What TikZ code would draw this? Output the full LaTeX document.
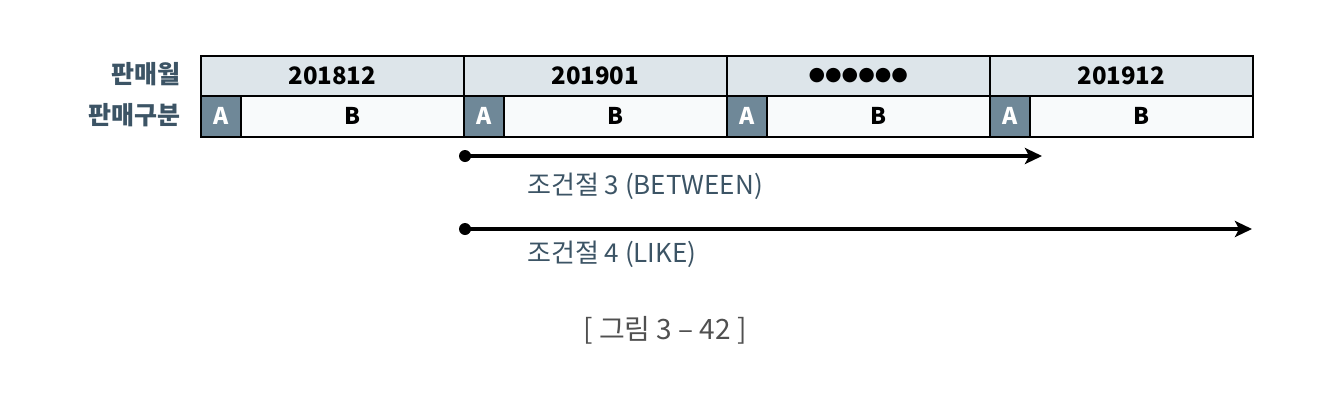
\documentclass[tikz,border=0pt]{standalone}
\usepackage{fontspec}
\setmainfont{Noto Sans CJK KR}
\newfontfamily\symfont{DejaVu Sans}
\usetikzlibrary{arrows.meta}
\definecolor{hdrfill}{HTML}{DDE5EA}
\definecolor{afill}{HTML}{6F8898}
\definecolor{cellfill}{HTML}{F8FAFB}
\definecolor{lblcol}{HTML}{3C5465}
\definecolor{capcol}{HTML}{505050}
\tikzset{
  hdr/.style={draw=black, line width=1.5pt, fill=hdrfill, minimum width=263pt, minimum height=40pt, inner sep=0pt, anchor=north west, font=\fontsize{24}{28}\selectfont\bfseries},
  acell/.style={draw=black, line width=1.5pt, fill=afill, text=white, minimum width=40pt, minimum height=41pt, inner sep=0pt, anchor=north west, font=\fontsize{23}{26}\selectfont\bfseries},
  bcell/.style={draw=black, line width=1.5pt, fill=cellfill, minimum width=223pt, minimum height=41pt, inner sep=0pt, anchor=north west, font=\fontsize{23}{26}\selectfont\bfseries},
  rowlbl/.style={anchor=east, text=lblcol, inner sep=0pt, font=\fontsize{25}{28}\selectfont\bfseries},
  rangearrow/.style={line width=3.2pt, -{Stealth[length=17pt,width=16pt,inset=4pt]}},
  startdot/.style={circle, fill=black, minimum size=12pt, inner sep=0pt},
  condlbl/.style={anchor=west, text=lblcol, inner sep=0pt, font=\fontsize{26}{29}\selectfont},
}
\begin{document}
\begin{tikzpicture}[x=1pt, y=-1pt]
\useasboundingbox (0,0) rectangle (1322,410);
% header row
\node[hdr] (h1) at (200,55) {201812};
\node[hdr] (h2) at (463,55) {201901};
\node[hdr] (h3) at (726,55) {{\symfont\fontsize{19}{22}\selectfont ●●●●●●}};
\node[hdr] (h4) at (989,55) {201912};
% second row
\foreach \i/\x in {1/200,2/463,3/726,4/989}{
  \node[bcell] (b\i) at (\x+40,95) {B};
  \node[acell] (a\i) at (\x,95) {A};
}
% row labels
\node[rowlbl] (l1) at (181,74) {판매월};
\node[rowlbl] (l2) at (181,115) {판매구분};
% arrows
\node[startdot] (d1) at (465,156) {};
\coordinate (e1) at (1042,156);
\draw[rangearrow] (d1.center) -- (e1);
\node[condlbl] (c1) at (527,186) {조건절 3 (BETWEEN)};
\node[startdot] (d2) at (465,229) {};
\coordinate (e2) at (1252,229);
\draw[rangearrow] (d2.center) -- (e2);
\node[condlbl] (c2) at (527,254) {조건절 4 (LIKE)};
% caption
\node[text=capcol, font=\fontsize{28}{32}\selectfont] (cap) at (665,330) {[ 그림 3 – 42 ]};
\end{tikzpicture}
\end{document}
